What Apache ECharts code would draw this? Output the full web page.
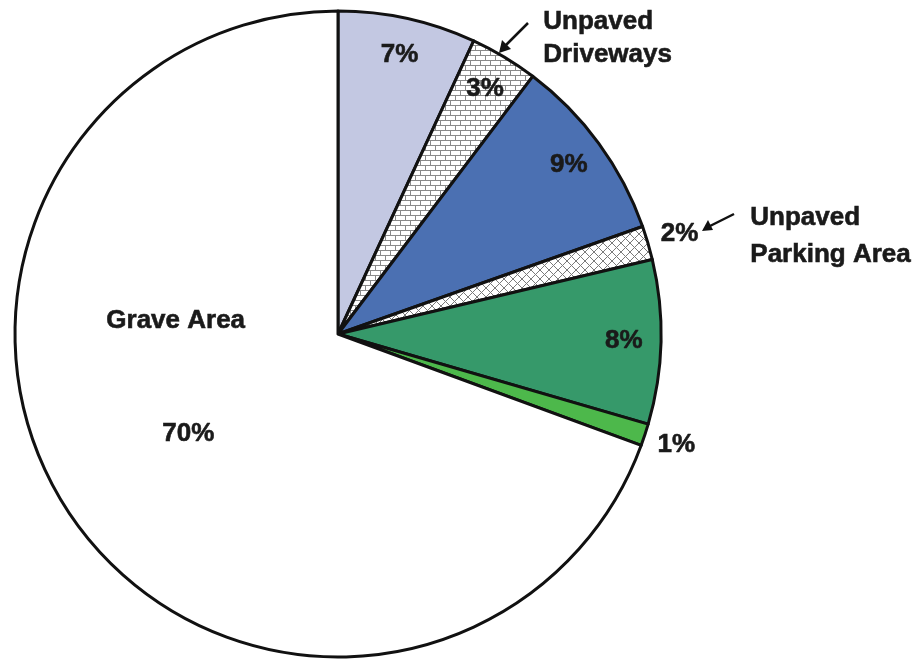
<!DOCTYPE html>
<html><head><meta charset="utf-8">
<script src="https://cdn.jsdelivr.net/npm/echarts@6/dist/echarts.min.js"></script>
<style>html,body{margin:0;padding:0;background:#fff}#c{width:923px;height:660px}</style>
</head><body><div id="c"></div>
<script>
// Data
const categories = ['Paved Driveways', 'Unpaved Driveways', 'Buildings', 'Unpaved Parking Area', 'Lawn', 'Other', 'Grave Area'];
const shares = [6.9, 3.4, 9.3, 1.7, 8.2, 1.1, 69.4];
const shareLabels = ['7%', '3%', '9%', '2%', '8%', '1%', '70%'];
const labelPlacement = ['in', 'in', 'in', 'out', 'in', 'out', 'none'];

function makePattern(kind) {
  const c = document.createElement('canvas');
  const ctx = c.getContext('2d');
  if (kind === 'brick') {
    c.width = 10; c.height = 10;
    ctx.fillStyle = '#fff'; ctx.fillRect(0, 0, 10, 10);
    ctx.strokeStyle = '#8a8a8a'; ctx.lineWidth = 1;
    ctx.beginPath();
    ctx.moveTo(0, 0.5); ctx.lineTo(10, 0.5);
    ctx.moveTo(0, 5.5); ctx.lineTo(10, 5.5);
    ctx.moveTo(0.5, 0); ctx.lineTo(0.5, 5.5);
    ctx.moveTo(5.5, 5.5); ctx.lineTo(5.5, 10);
    ctx.stroke();
  } else {
    c.width = 9; c.height = 9;
    ctx.fillStyle = '#fff'; ctx.fillRect(0, 0, 9, 9);
    ctx.strokeStyle = '#7a7a7a'; ctx.lineWidth = 1;
    ctx.beginPath();
    ctx.moveTo(0, 0); ctx.lineTo(9, 9);
    ctx.moveTo(9, 0); ctx.lineTo(0, 9);
    ctx.stroke();
  }
  return { image: c, repeat: 'repeat' };
}

const fills = ['#c3c8e2', makePattern('brick'), '#4b70b2', makePattern('cross'), '#36996a', '#4db84b', '#ffffff'];

const chart = echarts.init(document.getElementById('c'), null, { renderer: 'canvas' });
const CX = 338, CY = 334, R = 323;
const FONT = 'bold 26px Liberation Sans, Arial, sans-serif';
const font = { fontFamily: 'Liberation Sans, Arial, sans-serif', fontWeight: 'bold', fontSize: 26, color: '#1a1a1a', textBorderColor: '#1a1a1a', textBorderWidth: 0.6 };
const txt = (s, extra) => Object.assign({ text: s, fill: '#1a1a1a', font: FONT, stroke: '#1a1a1a', lineWidth: 0.6 }, extra || {});

const mainData = categories.map((n, i) => ({ name: n, value: shares[i], itemStyle: { color: fills[i] } }));
const labelData = (which) => categories.map((n, i) => ({
  name: n, value: shares[i],
  label: { show: labelPlacement[i] === which, formatter: shareLabels[i] }
}));

chart.setOption({
  animation: false,
  series: [
    {
      type: 'pie', center: [CX, CY], radius: [0, R], startAngle: 90, clockwise: true,
      silent: true, label: { show: false }, labelLine: { show: false },
      itemStyle: { borderColor: '#111', borderWidth: 3 },
      data: mainData
    },
    {
      type: 'pie', center: [CX, CY], radius: [R - 80, R], startAngle: 90, clockwise: true,
      silent: true, itemStyle: { color: 'transparent', borderWidth: 0 },
      label: Object.assign({ position: 'inside' }, font), labelLine: { show: false },
      data: labelData('in')
    },
    {
      type: 'pie', center: [CX, CY], radius: [R, R + 60], startAngle: 90, clockwise: true,
      silent: true, itemStyle: { color: 'transparent', borderWidth: 0 },
      label: Object.assign({ position: 'inside' }, font), labelLine: { show: false },
      data: labelData('out')
    }
  ],
  graphic: [
    { type: 'text', z: 100, left: 106, top: 308, style: txt(categories[6]) },
    { type: 'text', z: 100, left: 162, top: 421, style: txt(shareLabels[6]) },
    { type: 'text', z: 100, left: 543, top: 5, style: txt('Unpaved\nDriveways', { lineHeight: 33 }) },
    { type: 'text', z: 100, left: 750, top: 199, style: txt('Unpaved\nParking Area', { lineHeight: 37 }) },
    { type: 'line', z: 100, shape: { x1: 528, y1: 23, x2: 504, y2: 47 }, style: { stroke: '#111', lineWidth: 2.5 } },
    { type: 'polygon', z: 100, shape: { points: [[499, 53], [502, 40], [511, 49]] }, style: { fill: '#111' } },
    { type: 'line', z: 100, shape: { x1: 734, y1: 214, x2: 710, y2: 226 }, style: { stroke: '#111', lineWidth: 2.5 } },
    { type: 'polygon', z: 100, shape: { points: [[702, 231], [708, 220], [713, 230]] }, style: { fill: '#111' } }
  ]
});
</script></body></html>
